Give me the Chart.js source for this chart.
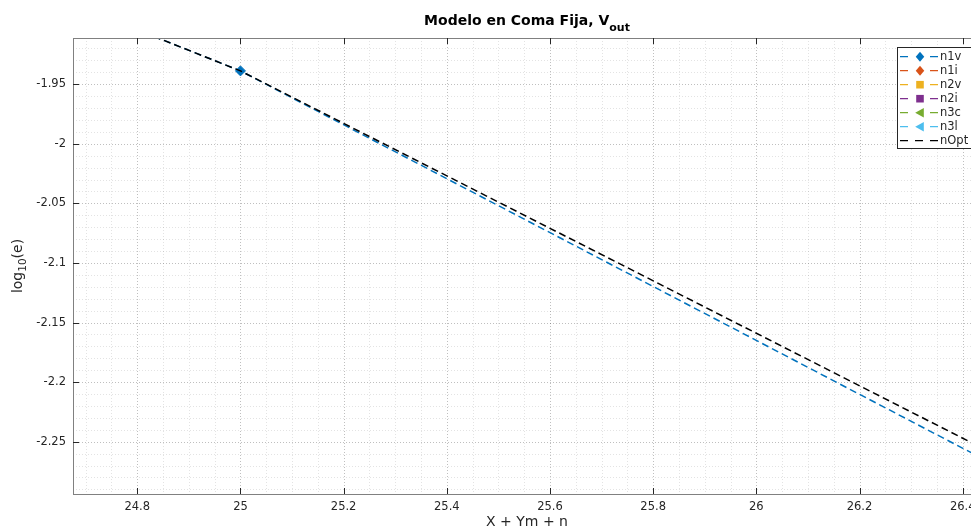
<!DOCTYPE html>
<html><head><meta charset="utf-8">
<script src="https://cdn.jsdelivr.net/npm/chart.js@4.4.1/dist/chart.umd.min.js"></script>
<style>
html,body{margin:0;padding:0;background:#fff;overflow:hidden;width:971px;height:530px}
#wrap{position:relative;width:1000px;height:530px}
</style>
</head><body><div id="wrap"><canvas id="c" width="1000" height="530"></canvas></div>
<script>
// ---- data ----
const seriesNames = ['n1v', 'n1i', 'n2v', 'n2i', 'n3c', 'n3l', 'nOpt'];
const seriesColors = ['#0072BD', '#D95319', '#EDB120', '#7E2F8E', '#77AC30', '#4DBEEE', '#000000'];
const seriesMarkers = ['diamond', 'diamond', 'square', 'square', 'left', 'left', 'none'];
const xN1v = [24, 25, 27];
const yN1v = [-1.7663, -1.9388, -2.3912];
const xN1i = [], yN1i = [];
const xN2v = [], yN2v = [];
const xN2i = [], yN2i = [];
const xN3c = [], yN3c = [];
const xN3l = [], yN3l = [];
const xNOpt = [24, 25, 27];
const yNOpt = [-1.7663, -1.9388, -2.3792];
const xTickValues = [24.8, 25, 25.2, 25.4, 25.6, 25.8, 26, 26.2, 26.4];
const xTickLabels = ['24.8', '25', '25.2', '25.4', '25.6', '25.8', '26', '26.2', '26.4'];
const yTickValues = [-2.25, -2.2, -2.15, -2.1, -2.05, -2, -1.95];
const yTickLabels = ['-2.25', '-2.2', '-2.15', '-2.1', '-2.05', '-2', '-1.95'];
const titleMain = 'Modelo en Coma Fija, V';
const titleSub = 'out';
const xAxisTitle = 'X + Ym + n';
const yAxisTitleMain = 'log';
const yAxisTitleSub = '10';
const yAxisTitleEnd = '(e)';

const xs = [xN1v, xN1i, xN2v, xN2i, xN3c, xN3l, xNOpt];
const ys = [yN1v, yN1i, yN2v, yN2i, yN3c, yN3l, yNOpt];

const styleMap = {diamond: ['rectRot', 0, 5], square: ['rect', 0, 3.8], left: ['triangle', -90, 4.4], none: ['circle', 0, 0]};

const datasets = seriesNames.map((name, i) => {
  const st = styleMap[seriesMarkers[i]];
  return {
    label: name,
    data: xs[i].map((x, k) => ({x: x, y: ys[i][k]})),
    showLine: true,
    borderColor: seriesColors[i],
    backgroundColor: seriesColors[i],
    borderWidth: 1.5,
    borderDash: [7, 4],
    pointStyle: st[0],
    pointRotation: st[1],
    pointRadius: st[2],
    pointBorderWidth: 1,
    pointHoverRadius: st[2],
    marker: seriesMarkers[i],
    order: seriesNames.length - i
  };
});

const FONT = "'DejaVu Sans', sans-serif";
const TXT = '#262626';

function minorValues(min, max, step) {
  const out = [];
  const start = Math.ceil(min / step - 1e-9);
  for (let k = start; k * step <= max + 1e-9; k++) out.push(+(k * step).toFixed(4));
  return out;
}

function drawMarker(ctx, kind, x, y, color) {
  ctx.save();
  ctx.fillStyle = color;
  ctx.strokeStyle = color;
  ctx.setLineDash([]);
  ctx.beginPath();
  if (kind === 'diamond') {
    const r = 5;
    ctx.moveTo(x, y - r); ctx.lineTo(x + r * 0.85, y); ctx.lineTo(x, y + r); ctx.lineTo(x - r * 0.85, y); ctx.closePath();
  } else if (kind === 'square') {
    ctx.rect(x - 3.8, y - 3.8, 7.6, 7.6);
  } else if (kind === 'left') {
    ctx.moveTo(x - 4.8, y); ctx.lineTo(x + 3.8, y - 4.8); ctx.lineTo(x + 3.8, y + 4.8); ctx.closePath();
  } else { ctx.restore(); return; }
  ctx.fill();
  ctx.restore();
}

const matlabPlugin = {
  id: 'matlab',
  beforeDatasetsDraw(chart) {
    const {ctx, chartArea: a, scales: {x, y}} = chart;
    ctx.save();
    ctx.beginPath(); ctx.rect(a.left, a.top, a.right - a.left, a.bottom - a.top); ctx.clip();
    ctx.lineWidth = 1;
    ctx.setLineDash([1, 2]);
    // minor grid
    ctx.strokeStyle = 'rgba(0,0,0,0.11)';
    minorValues(x.min, x.max, 0.05).forEach(v => {
      const px = Math.round(x.getPixelForValue(v)) + 0.5;
      ctx.beginPath(); ctx.moveTo(px, a.top); ctx.lineTo(px, a.bottom); ctx.stroke();
    });
    minorValues(y.min, y.max, 0.01).forEach(v => {
      const py = Math.round(y.getPixelForValue(v)) + 0.5;
      ctx.beginPath(); ctx.moveTo(a.left, py); ctx.lineTo(a.right, py); ctx.stroke();
    });
    // major grid
    ctx.strokeStyle = 'rgba(0,0,0,0.16)';
    xTickValues.forEach(v => {
      const px = Math.round(x.getPixelForValue(v)) + 0.5;
      ctx.beginPath(); ctx.moveTo(px, a.top); ctx.lineTo(px, a.bottom); ctx.stroke();
    });
    yTickValues.forEach(v => {
      const py = Math.round(y.getPixelForValue(v)) + 0.5;
      ctx.beginPath(); ctx.moveTo(a.left, py); ctx.lineTo(a.right, py); ctx.stroke();
    });
    ctx.restore();
  },
  afterDatasetsDraw(chart) {
    const {ctx, chartArea: a, scales: {x, y}} = chart;
    ctx.save();
    ctx.setLineDash([]);
    // box
    ctx.strokeStyle = '#808080';
    ctx.lineWidth = 1;
    ctx.strokeRect(Math.round(a.left) + 0.5, Math.round(a.top) + 0.5, Math.round(a.right - a.left), Math.round(a.bottom - a.top));
    // tick marks (inward)
    ctx.strokeStyle = TXT;
    xTickValues.forEach(v => {
      const px = Math.round(x.getPixelForValue(v)) + 0.5;
      ctx.beginPath(); ctx.moveTo(px, a.bottom); ctx.lineTo(px, a.bottom - 6); ctx.stroke();
      ctx.beginPath(); ctx.moveTo(px, a.top); ctx.lineTo(px, a.top + 6); ctx.stroke();
    });
    yTickValues.forEach(v => {
      const py = Math.round(y.getPixelForValue(v)) + 0.5;
      ctx.beginPath(); ctx.moveTo(a.left, py); ctx.lineTo(a.left + 6, py); ctx.stroke();
      ctx.beginPath(); ctx.moveTo(a.right, py); ctx.lineTo(a.right - 6, py); ctx.stroke();
    });
    // title with subscript
    ctx.fillStyle = '#000';
    ctx.textBaseline = 'alphabetic';
    ctx.textAlign = 'left';
    ctx.font = 'bold 14px ' + FONT;
    const w1 = ctx.measureText(titleMain).width;
    ctx.font = 'bold 11px ' + FONT;
    const w2 = ctx.measureText(titleSub).width;
    const cx = (a.left + a.right) / 2;
    let tx = cx - (w1 + w2) / 2;
    ctx.font = 'bold 14px ' + FONT;
    ctx.fillText(titleMain, tx, 25);
    ctx.font = 'bold 11px ' + FONT;
    ctx.fillText(titleSub, tx + w1, 30.5);
    // x axis title
    ctx.fillStyle = TXT;
    ctx.font = '14px ' + FONT;
    ctx.textAlign = 'center';
    ctx.fillText(xAxisTitle, cx, 526);
    // y axis title rotated
    ctx.save();
    ctx.translate(22, (a.top + a.bottom) / 2);
    ctx.rotate(-Math.PI / 2);
    ctx.textAlign = 'left';
    ctx.font = '14px ' + FONT;
    const l1 = ctx.measureText(yAxisTitleMain).width;
    const l3 = ctx.measureText(yAxisTitleEnd).width;
    ctx.font = '10.5px ' + FONT;
    const l2 = ctx.measureText(yAxisTitleSub).width;
    let sx = -(l1 + l2 + l3) / 2;
    ctx.font = '14px ' + FONT;
    ctx.fillText(yAxisTitleMain, sx, 0);
    ctx.font = '10.5px ' + FONT;
    ctx.fillText(yAxisTitleSub, sx + l1, 4);
    ctx.font = '14px ' + FONT;
    ctx.fillText(yAxisTitleEnd, sx + l1 + l2, 0);
    ctx.restore();
    // legend
    const lx = 897.5, ly = 47.5, lw = 75, lh = 101;
    ctx.fillStyle = '#fff';
    ctx.fillRect(lx, ly, lw, lh);
    ctx.strokeStyle = TXT;
    ctx.lineWidth = 1;
    ctx.strokeRect(lx, ly, lw, lh);
    chart.data.datasets.forEach((ds, i) => {
      const ey = 56.7 + i * 14;
      ctx.save();
      ctx.strokeStyle = ds.borderColor;
      ctx.lineWidth = 1.3;
      ctx.setLineDash([8, 7]);
      ctx.beginPath(); ctx.moveTo(900, ey); ctx.lineTo(938, ey); ctx.stroke();
      ctx.restore();
      if (ds.marker !== 'none') {
        ctx.fillStyle = '#fff';
        ctx.fillRect(912, ey - 2, 16, 4);
        drawMarker(ctx, ds.marker, 920, ey, ds.borderColor);
      }
      ctx.fillStyle = TXT;
      ctx.font = '11.5px ' + FONT;
      ctx.textAlign = 'left';
      ctx.textBaseline = 'middle';
      ctx.fillText(ds.label, 940, ey + 0.5);
    });
    ctx.restore();
  }
};

new Chart(document.getElementById('c'), {
  type: 'scatter',
  data: {datasets: datasets},
  plugins: [matlabPlugin],
  options: {
    responsive: false,
    animation: false,
    events: [],
    layout: {padding: {top: 38, right: 19, left: 0, bottom: 0}},
    plugins: {legend: {display: false}, title: {display: false}, tooltip: {enabled: false}},
    scales: {
      x: {
        type: 'linear', min: 24.6754, max: 26.4355,
        grid: {display: false, drawTicks: false},
        border: {display: false},
        afterBuildTicks: s => { s.ticks = xTickValues.map(v => ({value: v})); },
        afterFit: s => { s.height = 36; },
        ticks: {
          autoSkip: false, maxRotation: 0, padding: 6, color: TXT,
          font: {family: FONT, size: 11.5},
          callback: (v) => { const i = xTickValues.indexOf(+(+v).toFixed(4)); return i >= 0 ? xTickLabels[i] : ''; }
        }
      },
      y: {
        type: 'linear', min: -2.2939, max: -1.9112,
        grid: {display: false, drawTicks: false},
        border: {display: false},
        afterBuildTicks: s => { s.ticks = yTickValues.map(v => ({value: v})); },
        afterFit: s => { s.width = 73; },
        ticks: {
          autoSkip: false, padding: 7, color: TXT,
          font: {family: FONT, size: 11.5},
          callback: (v) => { const i = yTickValues.indexOf(+(+v).toFixed(4)); return i >= 0 ? yTickLabels[i] : ''; }
        }
      }
    }
  }
});
</script>
</body></html>
